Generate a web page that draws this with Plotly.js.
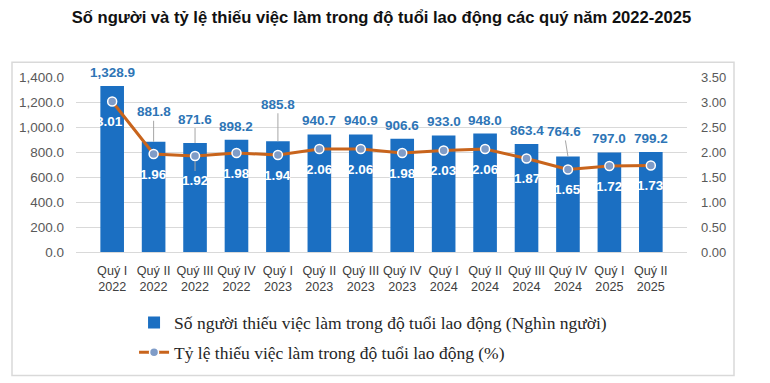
<!DOCTYPE html>
<html>
<head>
<meta charset="utf-8">
<script src="https://cdn.plot.ly/plotly-3.0.1.min.js"></script>
<style>html,body{margin:0;padding:0;background:#fff;}#chart{width:770px;height:383px;}</style>
</head>
<body>
<div id="chart"></div>
<script>
const quarters = ["Quý I","Quý II","Quý III","Quý IV","Quý I","Quý II","Quý III","Quý IV","Quý I","Quý II","Quý III","Quý IV","Quý I","Quý II"];
const years = ["2022","2022","2022","2022","2023","2023","2023","2023","2024","2024","2024","2024","2025","2025"];
const underemployed = [1328.9, 881.8, 871.6, 898.2, 885.8, 940.7, 940.9, 906.6, 933.0, 948.0, 863.4, 764.6, 797.0, 799.2];
const rate = [3.01, 1.96, 1.92, 1.98, 1.94, 2.06, 2.06, 1.98, 2.03, 2.06, 1.87, 1.65, 1.72, 1.73];
const barName = "Số người thiếu việc làm trong độ tuổi lao động (Nghìn người)";
const lineName = "Tỷ lệ thiếu việc làm trong độ tuổi lao động (%)";
const title = "Số người và tỷ lệ thiếu việc làm trong độ tuổi lao động các quý năm 2022-2025";
// label leader-line offsets (px) for crowded labels
const barLeader = {1: 30, 2: 24, 4: 37, 11: 25};
const barLeaderDx = {11: -4};
const rateLeader = {2: 24};

const cats = quarters.map((q, i) => q + "<br>" + years[i]);

const bars = {
  type: "bar", name: barName, x: cats, y: underemployed,
  marker: {color: "#1b6fc2"}, legendgroup: "a",
  hoverinfo: "y"
};
const line = {
  type: "scatter", mode: "lines+markers", name: lineName, x: cats, y: rate, yaxis: "y2",
  line: {color: "#c8641c", width: 3},
  marker: {size: 9, color: "#7f9cc8", line: {color: "#ffffff", width: 1.5}},
  legendgroup: "b"
};

const annotations = [];
underemployed.forEach((v, i) => {
  const txt = v.toLocaleString("en-US", {minimumFractionDigits: 1, maximumFractionDigits: 1});
  const a = {x: cats[i], y: v, xref: "x", yref: "y", text: "<b>" + txt + "</b>",
    font: {family: "Liberation Sans, Arial, sans-serif", size: 13.5, color: "#2e75b6"}};
  if (barLeader[i]) {
    Object.assign(a, {showarrow: true, arrowhead: 0, arrowwidth: 1, arrowcolor: "#a6a6a6",
      ax: barLeaderDx[i] || 0, ay: -barLeader[i], standoff: 0});
  } else {
    Object.assign(a, {showarrow: false, yanchor: "bottom", yshift: 4});
  }
  annotations.push(a);
});
rate.forEach((v, i) => {
  const a = {x: cats[i], y: v, xref: "x", yref: "y2", text: "<b>" + v.toFixed(2) + "</b>",
    font: {family: "Liberation Sans, Arial, sans-serif", size: 13.5, color: "#ffffff"}};
  if (rateLeader[i]) {
    Object.assign(a, {showarrow: true, arrowhead: 0, arrowwidth: 1, arrowcolor: "#a6a6a6",
      ax: 0, ay: rateLeader[i], standoff: 5});
  } else {
    Object.assign(a, {showarrow: false, yanchor: "middle", yshift: -20, xshift: i === 0 ? -3 : 0});
  }
  annotations.push(a);
});

const layout = {
  width: 770, height: 383,
  margin: {l: 76, r: 83, t: 77, b: 129},
  paper_bgcolor: "#ffffff", plot_bgcolor: "#ffffff",
  title: {text: "<b>" + title + "</b>", x: 0.5, xref: "paper", xanchor: "center", y: 0.955, yanchor: "middle",
    font: {family: "Liberation Sans, Arial, sans-serif", size: 16.6, color: "#111111"}},
  bargap: 0.43,
  xaxis: {type: "category", tickangle: 0, tickfont: {family: "Liberation Sans, Arial, sans-serif", size: 12.6, color: "#404040"},
    showline: false, ticks: "", showgrid: false, fixedrange: true, ticklabelstandoff: 9},
  yaxis: {range: [0, 1400], dtick: 200, tickformat: ",.1f", showgrid: true, gridcolor: "#d9d9d9",
    zeroline: true, zerolinecolor: "#d9d9d9", ticks: "", ticklabelstandoff: 11,
    tickfont: {family: "Liberation Sans, Arial, sans-serif", size: 13.5, color: "#595959"}},
  yaxis2: {range: [0, 3.5], dtick: 0.5, tickformat: ".2f", overlaying: "y", side: "right", showgrid: false,
    zeroline: false, ticks: "", ticklabelstandoff: 13,
    tickfont: {family: "Liberation Sans, Arial, sans-serif", size: 13, color: "#595959"}},
  showlegend: true,
  legend: {orientation: "v", x: 0.095, xanchor: "left", y: -0.30, yanchor: "top",
    traceorder: "grouped", tracegroupgap: 4,
    font: {family: "Liberation Serif, Times New Roman, serif", size: 17.5, color: "#262626"},
    bgcolor: "rgba(0,0,0,0)"},
  annotations: annotations,
  shapes: [{type: "rect", xref: "paper", yref: "paper",
    x0: (12 - 76) / 611, x1: (734 - 76) / 611, y0: (254 - 379) / 177, y1: (254 - 62) / 177,
    line: {color: "#d9d9d9", width: 1.5}, fillcolor: "rgba(0,0,0,0)", layer: "below"}]
};

Plotly.newPlot("chart", [bars, line], layout, {displayModeBar: false, staticPlot: true});
</script>
</body>
</html>
